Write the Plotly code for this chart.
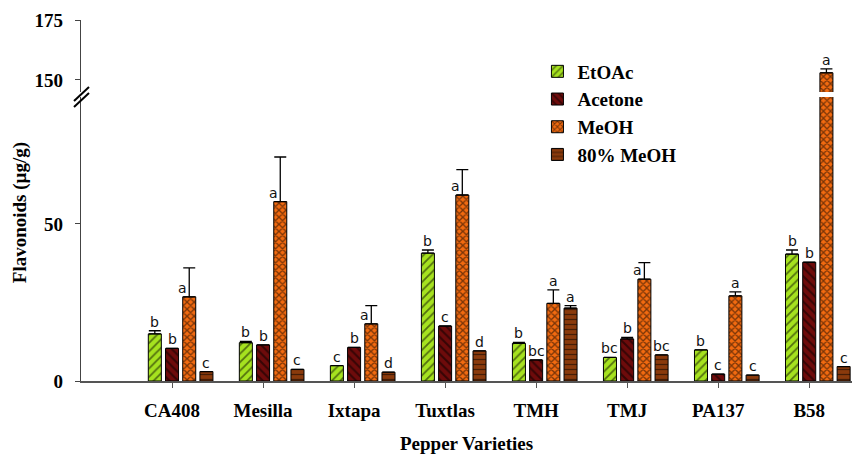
import plotly.graph_objects as go

# ---------------- data ----------------
categories = ["CA408", "Mesilla", "Ixtapa", "Tuxtlas", "TMH", "TMJ", "PA137", "B58"]
series_names = ["EtOAc", "Acetone", "MeOH", "80% MeOH"]

etoac = [15.0, 12.2, 4.9, 40.7, 12.0, 7.5, 9.9, 40.4]
acetone = [10.4, 11.5, 10.7, 17.5, 6.7, 13.4, 2.2, 37.8]
meoh = [26.8, 57.1, 18.2, 59.2, 24.7, 32.4, 27.1, 153.0]
meoh80 = [3.0, 3.7, 2.8, 9.6, 23.2, 8.3, 1.9, 4.6]

etoac_err = [1.0, 0.4, None, 1.0, 0.3, None, None, 1.3]
acetone_err = [None, None, None, None, None, 0.5, None, None]
meoh_err = [9.2, 14.2, 5.8, 8.1, 4.3, 5.3, 1.3, 1.6]
meoh80_err = [None, None, None, None, 0.8, None, None, None]

etoac_letters = ["b", "b", "c", "b", "b", "bc", "b", "b"]
acetone_letters = ["b", "b", "b", "c", "bc", "b", "c", "b"]
meoh_letters = ["a", "a", "a", "a", "a", "a", "a", "a"]
meoh80_letters = ["c", "c", "d", "d", "a", "bc", "c", "c"]
# letters placed beside a long error bar instead of above its cap
meoh_letter_beside = [True, True, True, True, False, True, False, False]

y_lower_ticks = [0, 50]
y_upper_ticks = [150, 175]

# ---------------- style ----------------
values = [etoac, acetone, meoh, meoh80]
errors = [etoac_err, acetone_err, meoh_err, meoh80_err]
letters = [etoac_letters, acetone_letters, meoh_letters, meoh80_letters]
bg_colors = ["#a6e21f", "#6e0b0b", "#f26a10", "#8a3a0c"]
shapes_p = ["/", "\\", "x", "-"]
p_sizes = [6, 6, 5, 5]
p_solid = [0.3, 0.35, 0.45, 0.25]

SLOT = 0.189
WIDTH = 0.143
LOWER_MAX = 90.4
UPPER_RANGE = [145, 175]
serif = "Liberation Serif"
x_idx = list(range(len(categories)))

fig = go.Figure()

for j, name in enumerate(series_names):
    vals = values[j]
    errs = errors[j]
    plus = [e if e is not None else float("nan") for e in errs]
    common = dict(
        x=x_idx,
        y=vals,
        width=WIDTH,
        offset=(j - 1) * SLOT - WIDTH / 2,
        marker=dict(
            color=bg_colors[j],
            line=dict(color="black", width=1),
            pattern=dict(shape=shapes_p[j], fgcolor="black", bgcolor=bg_colors[j],
                         size=p_sizes[j], solidity=p_solid[j], fillmode="overlay"),
        ),
        error_y=dict(type="data", symmetric=False, array=plus,
                     arrayminus=[0] * len(vals), color="black", thickness=1.3, width=6),
    )
    fig.add_trace(go.Bar(name=name, showlegend=True, xaxis="x", yaxis="y", **common))
    if max(vals) > LOWER_MAX:
        fig.add_trace(go.Bar(name=name, showlegend=False, xaxis="x", yaxis="y2", **common))

# significance letters
annotations = []
for j in range(len(series_names)):
    for i in range(len(categories)):
        v = values[j][i]
        e = errors[j][i]
        beside = (j == 2 and meoh_letter_beside[i])
        top = v if (e is None or beside) else v + e
        yref = "y2" if top > LOWER_MAX else "y"
        annotations.append(dict(
            x=i + (j - 1) * SLOT, y=top, xref="x", yref=yref,
            text=letters[j][i], showarrow=False, yanchor="bottom",
            xshift=-7 if beside else 0, yshift=-1,
            font=dict(family="DejaVu Sans", size=14, color="#111"),
        ))

# axis titles
annotations.append(dict(text="Flavonoids (µg/g)", textangle=-90, x=-0.079, y=0.465,
                        xref="paper", yref="paper", showarrow=False,
                        xanchor="center", yanchor="middle",
                        font=dict(family=serif, size=19, color="black", weight="bold")))
annotations.append(dict(text="Pepper Varieties", x=0.5, y=-0.172, xref="paper", yref="paper",
                        showarrow=False, xanchor="center", yanchor="middle",
                        font=dict(family=serif, size=19, color="black", weight="bold")))

# break marks on y axis
shapes = []
for dy in [0.0, 6.0]:
    x0p, y0p, x1p, y1p = 74, 101 + dy, 89, 87 + dy
    shapes.append(dict(type="line", xref="paper", yref="paper",
                       x0=(x0p - 81) / 771, y0=(381 - y0p) / 361,
                       x1=(x1p - 81) / 771, y1=(381 - y1p) / 361,
                       line=dict(color="black", width=2)))

axis_font = dict(family=serif, size=19, color="black", weight="bold")
fig.update_layout(
    width=852, height=454,
    margin=dict(l=81, r=0, t=20, b=73),
    paper_bgcolor="white", plot_bgcolor="white",
    barmode="overlay",
    xaxis=dict(range=[-1.0, 7.47], tickvals=x_idx, ticktext=categories,
               showline=True, linecolor="#555", linewidth=2, ticks="outside",
               ticklen=5, tickcolor="#555", tickfont=axis_font, showgrid=False,
               zeroline=False, anchor="y", ticklabelstandoff=6),
    yaxis=dict(domain=[0, 0.7867], range=[0, LOWER_MAX], tickvals=y_lower_ticks,
               showline=True, linecolor="#444", linewidth=1.3, ticks="outside",
               ticklen=5, tickcolor="#444", tickfont=axis_font, showgrid=False,
               zeroline=False, anchor="x", ticklabelstandoff=8),
    yaxis2=dict(domain=[0.8006, 1.0], range=UPPER_RANGE, tickvals=y_upper_ticks,
                showline=True, linecolor="#444", linewidth=1.3, ticks="outside",
                ticklen=5, tickcolor="#444", tickfont=axis_font, showgrid=False,
                zeroline=False, anchor="x", ticklabelstandoff=8),
    legend=dict(x=0.592, y=0.91, xanchor="left", yanchor="top",
                font=dict(family=serif, size=19, color="black", weight="bold"),
                bgcolor="rgba(0,0,0,0)", tracegroupgap=0),
    annotations=annotations,
    shapes=shapes,
    showlegend=True,
)

fig.write_html("out.html")
